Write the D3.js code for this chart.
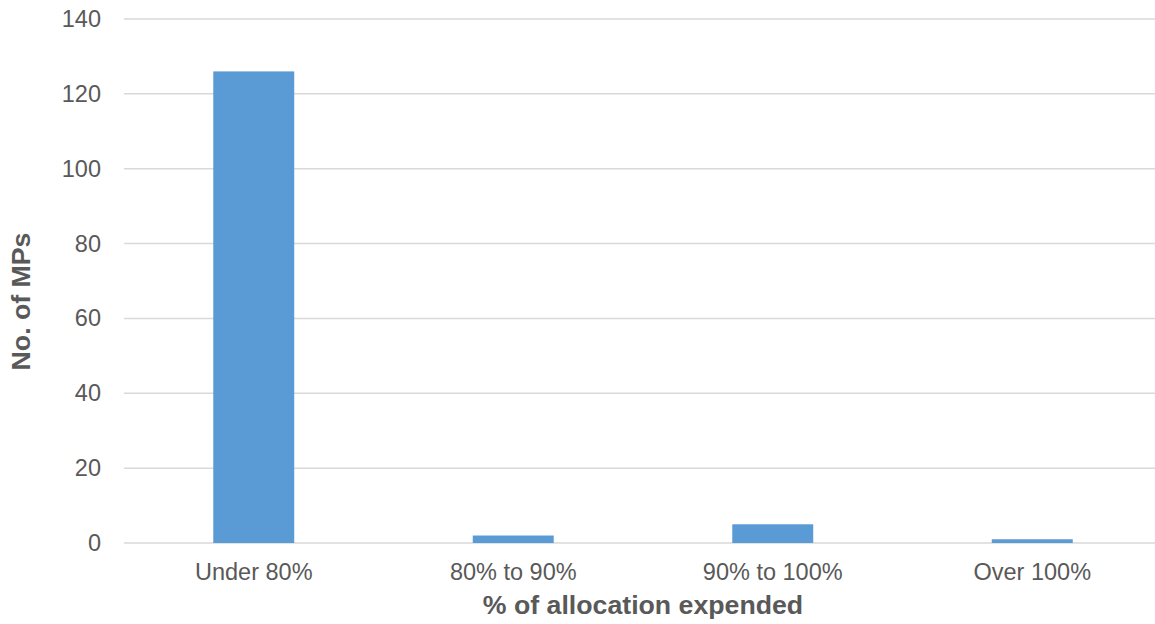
<!DOCTYPE html>
<html><head><meta charset="utf-8">
<script src="https://cdn.jsdelivr.net/npm/d3@7"></script>
<style>body{margin:0;background:#fff;overflow:hidden}text{font-family:"Liberation Sans",Arial,sans-serif}</style>
</head><body><svg id="c" width="1155" height="624"></svg>
<script>
const categories = ["Under 80%", "80% to 90%", "90% to 100%", "Over 100%"];
const values = [126, 2, 5, 1];
const yTicks = [0, 20, 40, 60, 80, 100, 120, 140];
const xTitle = "% of allocation expended";
const yTitle = "No. of MPs";

const svg = d3.select("#c");
const W = 1155, H = 624;
const plotL = 124, plotR = 1162, plotT = 19, plotB = 543;
const x = d3.scaleBand().domain(categories).range([plotL, plotR]).paddingInner(0.688).paddingOuter(0.344);
const y = d3.scaleLinear().domain([0, 140]).range([plotB, plotT]);

svg.append("g").selectAll("line").data(yTicks).join("line")
  .attr("x1", plotL).attr("x2", W)
  .attr("y1", d => y(d)).attr("y2", d => y(d))
  .attr("stroke", "#d9d9d9").attr("stroke-width", 1.5);

svg.append("g").selectAll("rect").data(values).join("rect")
  .attr("x", (d, i) => x(categories[i])).attr("width", x.bandwidth())
  .attr("y", d => y(d)).attr("height", d => y(0) - y(d))
  .attr("fill", "#5b9bd5");

const yAxis = svg.append("g").attr("transform", `translate(${plotL},0)`)
  .call(d3.axisLeft(y).tickValues(yTicks).tickSize(0).tickPadding(23));
yAxis.select(".domain").remove();
yAxis.selectAll("text").attr("fill", "#595959").attr("font-size", 23.5).attr("font-family", "Liberation Sans, Arial, sans-serif");

const xAxis = svg.append("g").attr("transform", `translate(0,${plotB})`)
  .call(d3.axisBottom(x).tickSize(0).tickPadding(20));
xAxis.select(".domain").remove();
xAxis.selectAll("text").attr("fill", "#595959").attr("font-size", 23.5).attr("font-family", "Liberation Sans, Arial, sans-serif");

svg.append("text").attr("x", 643).attr("y", 614)
  .attr("text-anchor", "middle").attr("font-size", 26.7).attr("font-weight", "bold").attr("fill", "#595959").text(xTitle);
svg.append("text").attr("transform", `translate(30,301.5) rotate(-90)`)
  .attr("text-anchor", "middle").attr("font-size", 26.7).attr("font-weight", "bold").attr("fill", "#595959").text(yTitle);
</script></body></html>
